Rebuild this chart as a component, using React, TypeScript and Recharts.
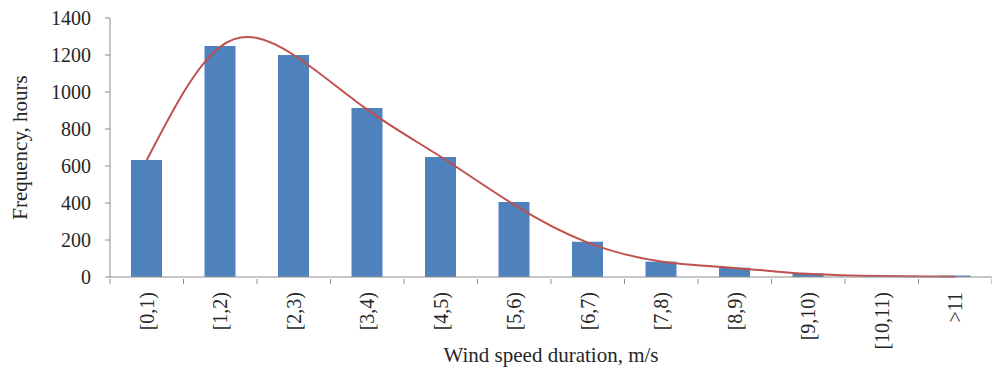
import React from 'react';
import {
  ComposedChart,
  Bar,
  Line,
  XAxis,
  YAxis,
  Label,
} from 'recharts';

const speedBins = ['[0,1)', '[1,2)', '[2,3)', '[3,4)', '[4,5)', '[5,6)', '[6,7)', '[7,8)', '[8,9)', '[9,10)', '[10,11)', '>11'];
const hoursObserved = [632, 1249, 1200, 913, 649, 405, 191, 83, 50, 20, 4, 8];
const hoursFitted = [632, 1245, 1200, 905, 650, 390, 186, 84, 49, 17, 5, 2];
const yTicks = [0, 200, 400, 600, 800, 1000, 1200, 1400];

const data = speedBins.map((bin, i) => ({
  bin,
  observed: hoursObserved[i],
  fitted: hoursFitted[i],
}));

const FONT = '"Liberation Serif", "Times New Roman", serif';
const AXIS_GREY = '#8c8c8c';

const WIDTH = 992;
const HEIGHT = 372;
const X_AXIS_H = 95;
const MARGIN = { top: 18, right: 0, bottom: 0, left: 50 };
const Y_AXIS_W = 60;
const PLOT_W = WIDTH - MARGIN.left - MARGIN.right - Y_AXIS_W;
const BAND = PLOT_W / speedBins.length;

// category labels read bottom-to-top, with tick marks between the bins
const BinTick = (props: any) => {
  const { x, y, payload, index } = props;
  const half = BAND / 2;
  return (
    <g>
      <line x1={x - half} y1={y} x2={x - half} y2={y + 5} stroke={AXIS_GREY} />
      {index === speedBins.length - 1 && (
        <line x1={x + half} y1={y} x2={x + half} y2={y + 5} stroke={AXIS_GREY} />
      )}
      <text
        x={0}
        y={0}
        transform={`translate(${x + 7}, ${y + 13}) rotate(-90)`}
        textAnchor="end"
        fontFamily={FONT}
        fontSize={20}
        fill="#262626"
      >
        {payload.value}
      </text>
    </g>
  );
};

export default function App() {
  return (
    <div style={{ position: 'absolute', left: 0, top: 0, width: WIDTH, height: HEIGHT, background: '#fff' }}>
      <ComposedChart width={WIDTH} height={HEIGHT} data={data} margin={MARGIN} barCategoryGap={0}>
        <XAxis
          dataKey="bin"
          stroke={AXIS_GREY}
          tickLine={false}
          tickSize={0}
          tick={<BinTick />}
          interval={0}
          height={X_AXIS_H}
        >
          <Label
            value="Wind speed duration, m/s"
            position="insideBottom"
            offset={10}
            style={{ fontFamily: FONT, fontSize: 21, fill: '#262626' }}
          />
        </XAxis>
        <YAxis
          width={Y_AXIS_W}
          domain={[0, 1400]}
          ticks={yTicks}
          interval={0}
          stroke={AXIS_GREY}
          tickSize={5}
          tickMargin={14}
          tick={{ fontFamily: FONT, fontSize: 20, fill: '#262626' }}
        >
          <Label
            value="Frequency, hours"
            angle={-90}
            position="center"
            dx={-60}
            style={{ fontFamily: FONT, fontSize: 21, fill: '#262626', textAnchor: 'middle' }}
          />
        </YAxis>
        <Bar dataKey="observed" fill="#4F81BD" barSize={31} isAnimationActive={false} />
        <Line
          type="natural"
          dataKey="fitted"
          stroke="#C0504D"
          strokeWidth={2}
          dot={false}
          activeDot={false}
          isAnimationActive={false}
        />
      </ComposedChart>
    </div>
  );
}
